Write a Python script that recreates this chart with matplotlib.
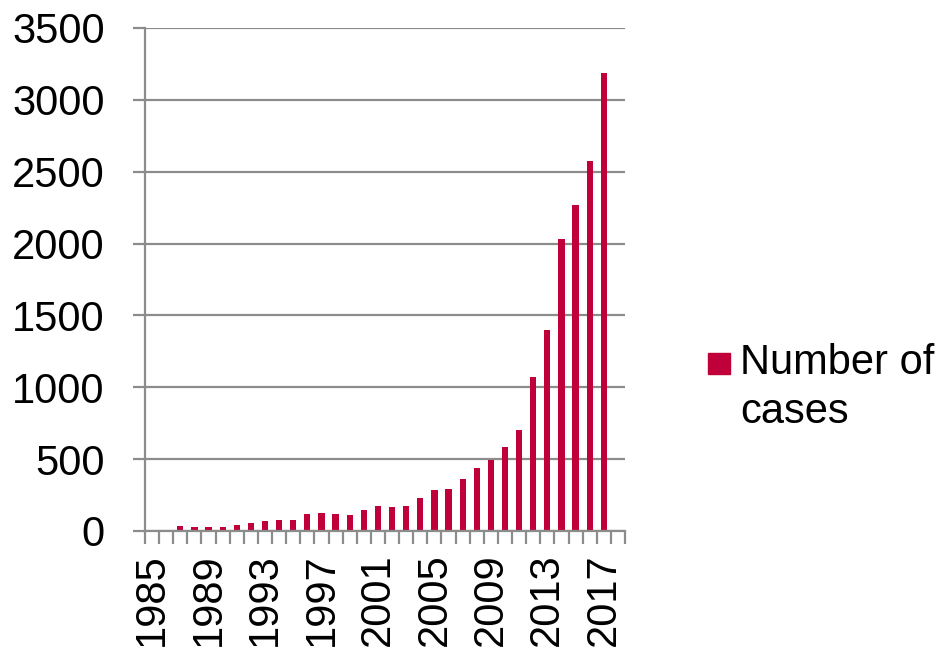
import numpy as np
import matplotlib
matplotlib.use('Agg')
import matplotlib.pyplot as plt
from matplotlib.patches import Rectangle

plt.rcParams['font.family'] = ['Liberation Sans', 'DejaVu Sans']

years = list(range(1985, 2019))
cases = [0, 0, 32, 25, 25, 28, 42, 58, 72, 76, 79, 118, 125, 116, 109,
         148, 174, 167, 174, 227, 285, 289, 361, 435, 495, 583, 701,
         1074, 1400, 2030, 2268, 2574, 3190, 0]
series_name = 'Number of\ncases'
yticks = [0, 500, 1000, 1500, 2000, 2500, 3000, 3500]
label_years = years[::4]

bar_color = '#C00038'
grid_color = '#8C8C8C'

fig = plt.figure(figsize=(9.41, 6.49), dpi=100)
ax = fig.add_axes([145 / 941, 1 - 531 / 649, 480 / 941, 503 / 649])

x = np.arange(len(years))
ax.bar(x, cases, width=0.44, color=bar_color, zorder=3)

ax.set_xlim(-0.5, len(years) - 0.5)
ax.set_ylim(0, 3500)
ax.set_yticks(yticks)
ax.yaxis.grid(True, color=grid_color, linewidth=1.6, zorder=0)
ax.set_axisbelow(True)

# category labels every 4 years, tick marks between every category
ax.set_xticks([years.index(y) for y in label_years])
ax.set_xticklabels([str(y) for y in label_years], rotation=90)
ax.set_xticks(np.arange(-0.5, len(years)), minor=True)
ax.tick_params(axis='x', which='major', length=0, pad=16, labelsize=30)
ax.tick_params(axis='x', which='minor', length=9, width=1.6, color=grid_color)
ax.tick_params(axis='y', length=9, width=1.6, color=grid_color, pad=20, labelsize=30)

for side in ['top', 'right']:
    ax.spines[side].set_visible(False)
for side in ['left', 'bottom']:
    ax.spines[side].set_color(grid_color)
    ax.spines[side].set_linewidth(1.6)
    ax.spines[side].set_zorder(4)

# legend drawn by hand so the marker sits on the first text line
fig.add_artist(Rectangle((708 / 941, 1 - 374 / 649), 22 / 941, 21 / 649,
                         transform=fig.transFigure, color=bar_color))
fig.text(740 / 941, 1 - 343 / 649, series_name, fontsize=30, va='top',
         ha='left', linespacing=1.3)

fig.savefig('out.png', dpi=100)
